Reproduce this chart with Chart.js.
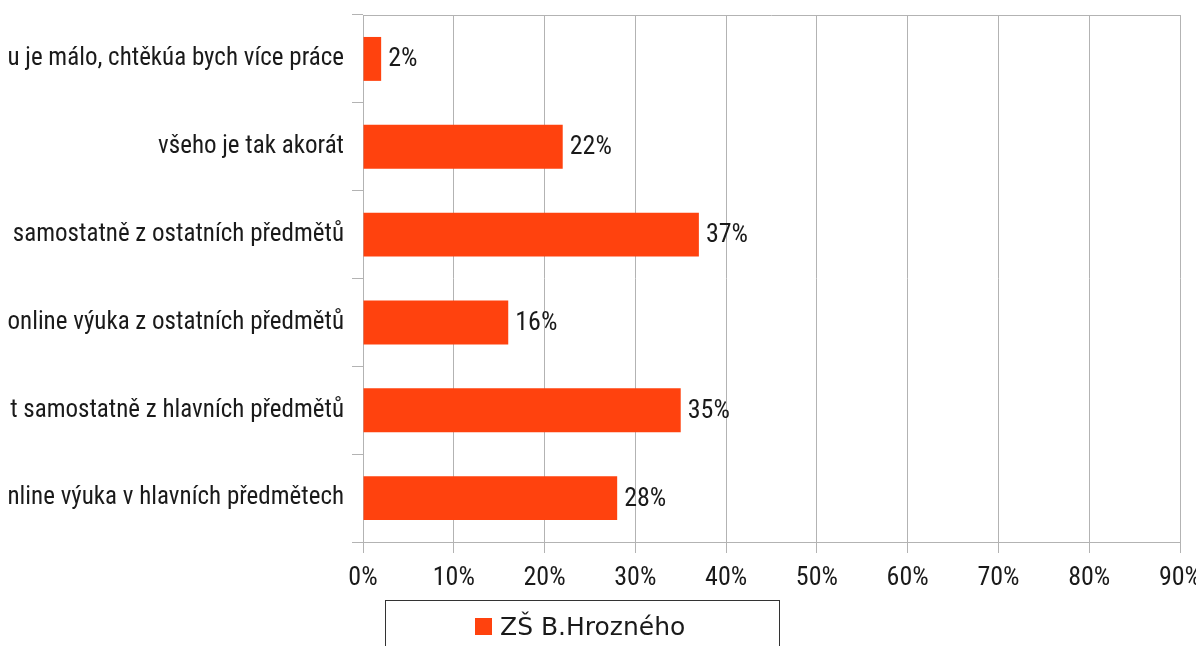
<!DOCTYPE html>
<html>
<head>
<meta charset="utf-8">
<script src="https://cdn.jsdelivr.net/npm/chart.js@4"></script>
<style>
  html, body { margin: 0; padding: 0; background: #fff; overflow: hidden; }
  canvas { display: block; }
</style>
</head>
<body>
<canvas id="chart" width="1196" height="646"></canvas>
<script>
// kategorie (odshora dolů), text je na levém okraji oříznutý
const categories = [
  'u je málo, chtěkúa bych více práce',
  'všeho je tak akorát',
  'samostatně z ostatních předmětů',
  'online výuka z ostatních předmětů',
  't samostatně z hlavních předmětů',
  'nline výuka v hlavních předmětech'
];
const values = [2, 22, 37, 16, 35, 28]; // procenta
const seriesName = 'ZŠ B.Hrozného';
const xTicks = [0, 10, 20, 30, 40, 50, 60, 70, 80, 90];

const BAR_COLOR = '#ff420e';
const GRID = '#b3b3b3';
const FONT = '"Roboto Condensed", "DejaVu Sans Condensed", sans-serif';

// popisky hodnot za koncem sloupce
const valueLabels = {
  id: 'valueLabels',
  afterDatasetsDraw(chart) {
    const ctx = chart.ctx;
    const meta = chart.getDatasetMeta(0);
    ctx.save();
    ctx.font = '26px ' + FONT;
    ctx.fillStyle = '#1a1a1a';
    ctx.textAlign = 'left';
    ctx.textBaseline = 'middle';
    meta.data.forEach((bar, i) => {
      ctx.fillText(values[i] + '%', bar.x + 7, bar.y + 1);
    });
    ctx.restore();
  }
};

// horní okraj plochy grafu + legenda v rámečku
const frameAndLegend = {
  id: 'frameAndLegend',
  afterDraw(chart) {
    const ctx = chart.ctx;
    const a = chart.chartArea;
    ctx.save();
    ctx.strokeStyle = GRID;
    ctx.lineWidth = 1;
    ctx.beginPath();
    ctx.moveTo(a.left, a.top + 0.5);
    ctx.lineTo(a.right, a.top + 0.5);
    ctx.stroke();

    // legenda
    const bx = 385, by = 600, bw = 394, bh = 60;
    ctx.strokeStyle = '#333';
    ctx.strokeRect(bx + 0.5, by + 0.5, bw, bh);
    ctx.fillStyle = chart.data.datasets[0].backgroundColor;
    ctx.fillRect(475, 618, 17, 17);
    ctx.fillStyle = '#1a1a1a';
    ctx.font = '25px "DejaVu Sans", sans-serif';
    ctx.textBaseline = 'alphabetic';
    ctx.textAlign = 'left';
    ctx.fillText(chart.data.datasets[0].label, 500, 635);
    ctx.restore();
  }
};

new Chart(document.getElementById('chart'), {
  type: 'bar',
  data: {
    labels: categories,
    datasets: [{
      label: seriesName,
      data: values,
      backgroundColor: BAR_COLOR,
      borderWidth: 0,
      barPercentage: 0.5,
      categoryPercentage: 1
    }]
  },
  options: {
    indexAxis: 'y',
    responsive: false,
    animation: false,
    devicePixelRatio: 1,
    layout: { padding: { top: 15, right: 16, left: 0, bottom: 0 } },
    plugins: {
      legend: { display: false },
      tooltip: { enabled: false }
    },
    scales: {
      x: {
        min: 0,
        max: 90,
        afterBuildTicks: s => { s.ticks = xTicks.map(v => ({ value: v })); },
        afterFit: s => { s.height = 104; s.paddingLeft = 0; s.paddingRight = 0; },
        grid: { color: GRID, tickColor: GRID, tickLength: 11, lineWidth: 1 },
        border: { color: GRID },
        ticks: {
          callback: v => v + '%',
          color: '#1a1a1a',
          padding: 10,
          maxRotation: 0,
          autoSkip: false,
          font: { family: FONT, size: 26 }
        }
      },
      y: {
        afterFit: s => { s.width = 363; s.paddingTop = 0; s.paddingBottom = 0; },
        grid: { drawOnChartArea: false, color: GRID, tickColor: GRID, tickLength: 11, offset: true },
        border: { color: GRID },
        ticks: {
          color: '#1a1a1a',
          padding: 8,
          autoSkip: false,
          font: { family: FONT, size: 25 }
        }
      }
    }
  },
  plugins: [valueLabels, frameAndLegend]
});
</script>
</body>
</html>
